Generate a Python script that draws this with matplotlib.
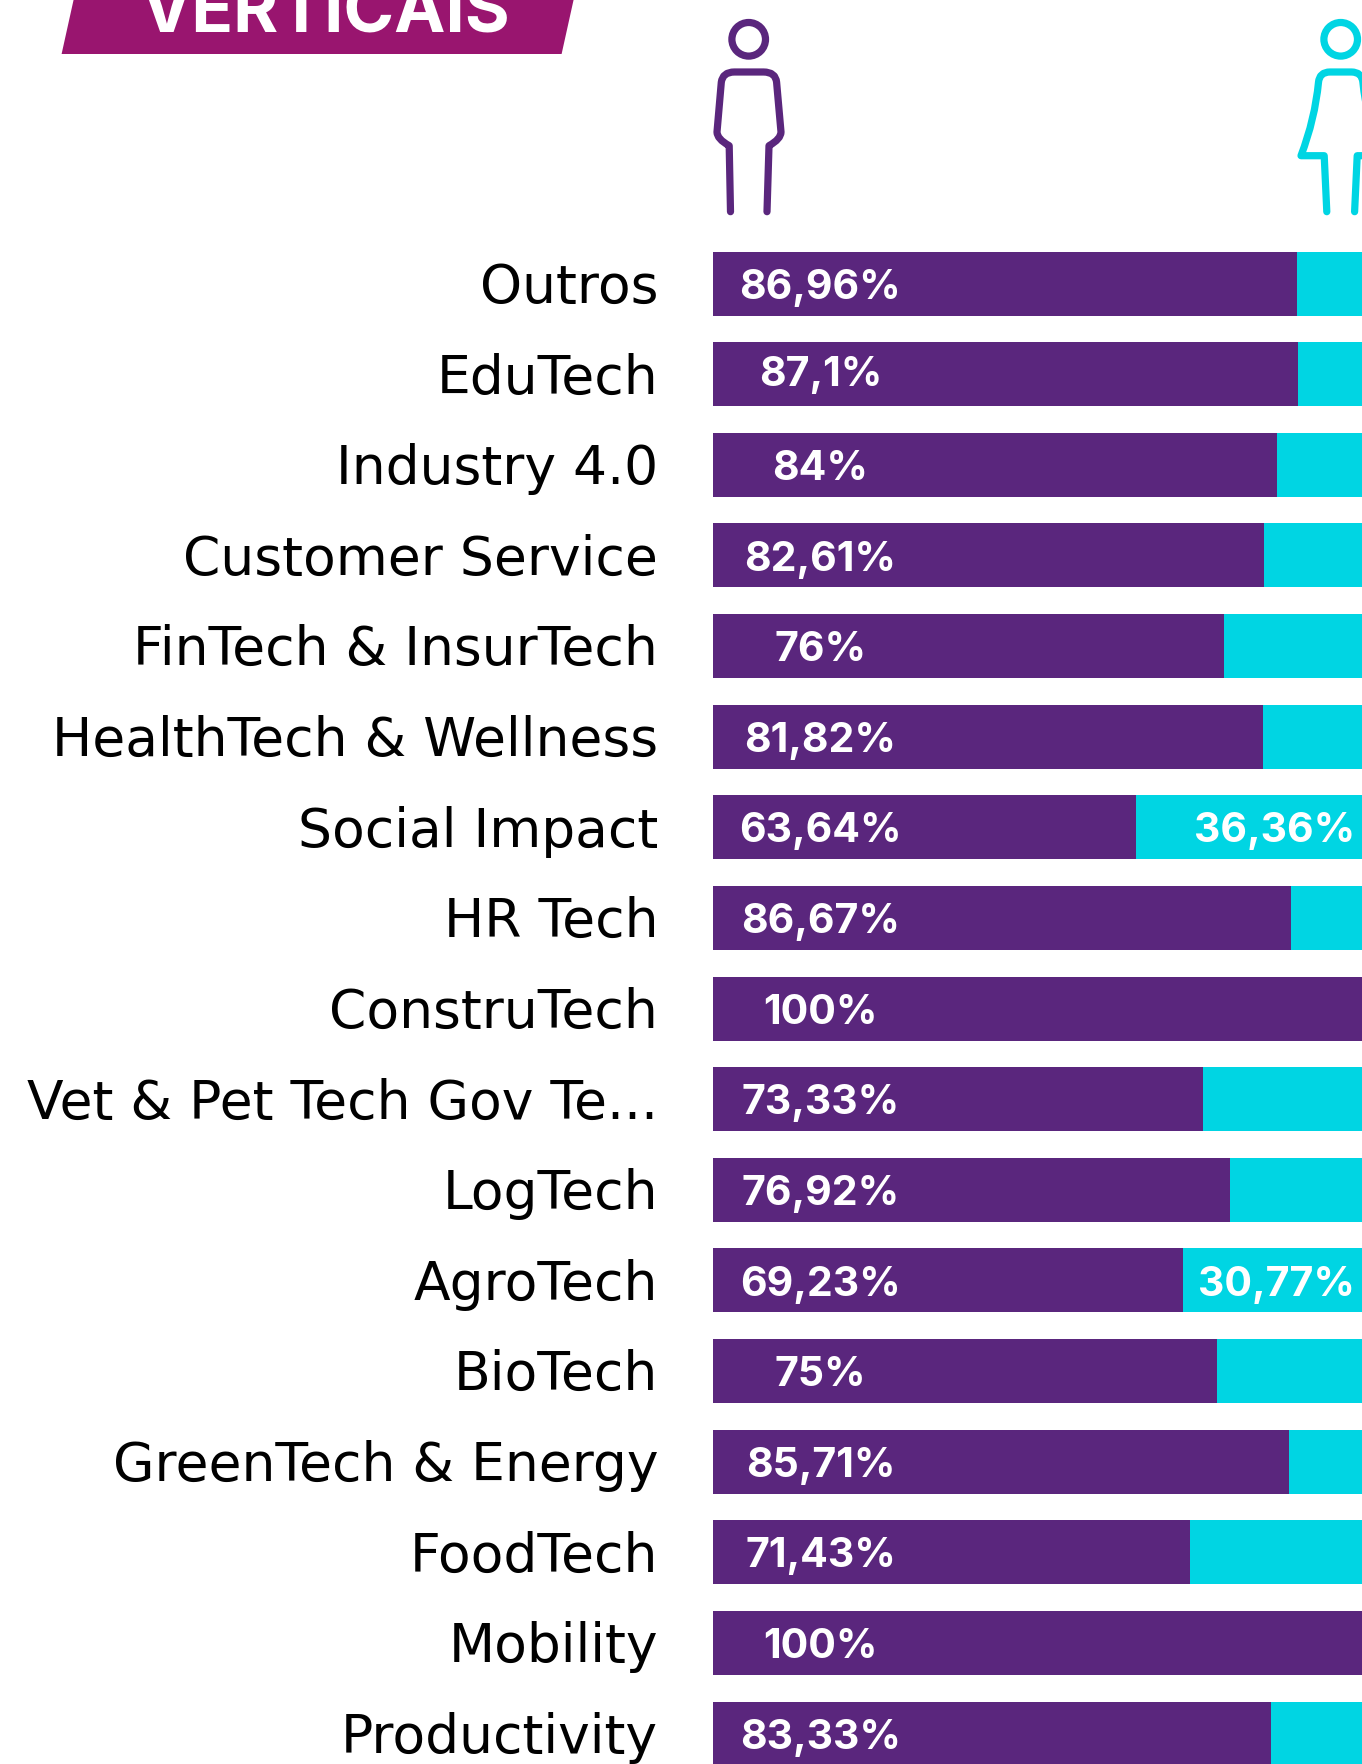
import matplotlib
matplotlib.use('Agg')
import matplotlib.pyplot as plt
from matplotlib.patches import Circle, PathPatch, Polygon
from matplotlib.path import Path
from matplotlib.transforms import ScaledTranslation

FONT = 'Inter'
LABEL_FONT = 'DejaVu Sans'
PURPLE = '#5A267D'
CYAN = '#00D5E3'
MAGENTA = '#99156F'

categories = ['Outros', 'EduTech', 'Industry 4.0', 'Customer Service',
              'FinTech & InsurTech', 'HealthTech & Wellness', 'Social Impact',
              'HR Tech', 'ConstruTech', 'Vet & Pet Tech Gov Te...', 'LogTech',
              'AgroTech', 'BioTech', 'GreenTech & Energy', 'FoodTech',
              'Mobility', 'Productivity']
# bar lengths as drawn (they differ a little from the printed labels)
men = [86.96, 87.1, 84, 82.04, 76.1, 81.95, 62.98, 86.06, 100, 72.96, 76.92,
       69.98, 75, 85.71, 71.02, 100, 83.09]
women = [100 - m for m in men]
men_labels = ['86,96%', '87,1%', '84%', '82,61%', '76%', '81,82%', '63,64%',
              '86,67%', '100%', '73,33%', '76,92%', '69,23%', '75%', '85,71%',
              '71,43%', '100%', '83,33%']
women_labels = {6: '36,36%', 11: '30,77%'}

W, H = 1362, 1765
fig = plt.figure(figsize=(W / 100, H / 100), dpi=100, facecolor='white')

# bar chart, the right side runs off the canvas
ax = fig.add_axes([713 / W, 0, (W - 713) / W, 1])
pitch = 90.625
y = list(range(len(categories)))
ax.barh(y, men, height=64 / pitch, color=PURPLE)
ax.barh(y, women, left=men, height=64 / pitch, color=CYAN)
ax.set_xlim(0, 96.63)
ax.set_ylim((H - 284.5) / pitch, -284.5 / pitch)
ax.set_yticks(y)
ax.set_yticklabels(categories, fontsize=38.5, family=LABEL_FONT, color='black')
ax.tick_params(axis='y', length=0, pad=39.5)
ax.set_xticks([])
for s in ax.spines.values():
    s.set_visible(False)

# nudge the category names up a touch
nudge = ScaledTranslation(0, 2.2 / 100, fig.dpi_scale_trans)
for t in ax.get_yticklabels():
    t.set_transform(t.get_transform() + nudge)

for i, lab in enumerate(men_labels):
    # the EduTech label sits a little higher in the source
    off = 0.0 if i == 1 else 0.035
    ax.text(16.0, i + off, lab, color='white', fontsize=29.5, fontweight='bold',
            family=FONT, ha='center', va='center')
for i, lab in women_labels.items():
    ax.text(95.6, i + 0.035, lab, color='white', fontsize=29.5, fontweight='bold',
            family=FONT, ha='right', va='center')

# overlay in pixel coordinates for the banner and the icons
ov = fig.add_axes([0, 0, 1, 1], facecolor='none')
ov.set_xlim(0, W)
ov.set_ylim(H, 0)
ov.axis('off')

ov.add_patch(Polygon([(74, -1), (574, -1), (561.6, 55), (61.6, 55)], color=MAGENTA, lw=0))
ov.text(325, 32, 'VERTICAIS', color='white', fontsize=49.5, fontweight='bold',
        family=FONT, ha='center', va='baseline')

# man icon
verts = [(730.5, 212.7), (729.2, 146.7), (717, 140), (717, 133), (721.3, 83.3),
         (722.6, 73), (734.4, 73), (763.5, 73), (775.7, 73), (776.6, 83.3),
         (781, 133), (781, 140), (769, 146.7), (767, 212.7)]
codes = [Path.MOVETO, Path.LINETO, Path.CURVE3, Path.CURVE3, Path.LINETO,
         Path.CURVE3, Path.CURVE3, Path.LINETO, Path.CURVE3, Path.CURVE3,
         Path.LINETO, Path.CURVE3, Path.CURVE3, Path.LINETO]
ov.add_patch(PathPatch(Path(verts, codes), fill=False, ec=PURPLE, lw=5.2, capstyle='round', joinstyle='round'))
ov.add_patch(Circle((748.7, 40.3), 16.8, fill=False, ec=PURPLE, lw=5.2))

# woman icon
cx = 1340.7
half = [(1326.8, 212.7), (1324.2, 156.7), (1301, 156.7), (1315, 120), (1318.5, 83.3),
        (1319.4, 73), (1330, 73)]
half_codes = [Path.MOVETO, Path.LINETO, Path.LINETO, Path.CURVE3, Path.CURVE3,
              Path.CURVE3, Path.CURVE3]
mirror = [(2 * cx - px, py) for px, py in reversed(half)]
mirror_codes = [Path.LINETO, Path.CURVE3, Path.CURVE3, Path.CURVE3, Path.CURVE3,
                Path.LINETO, Path.LINETO]
ov.add_patch(PathPatch(Path(half + mirror, half_codes + mirror_codes), fill=False, ec=CYAN, lw=5.2,
                       capstyle='round', joinstyle='round'))
ov.add_patch(Circle((cx, 40.3), 16.8, fill=False, ec=CYAN, lw=5.2))

fig.savefig('out.png', dpi=100)
